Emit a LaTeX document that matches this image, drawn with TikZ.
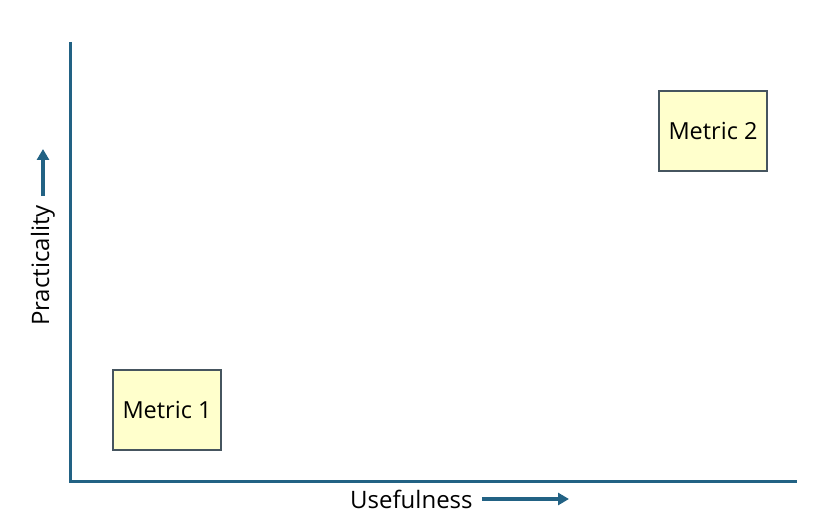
\documentclass[tikz,border=0pt]{standalone}
\usepackage{fontspec}
\setmainfont{Open Sans}
\usetikzlibrary{arrows.meta}
\definecolor{axisblue}{RGB}{34,98,132}
\definecolor{boxfill}{RGB}{255,255,204}
\definecolor{boxline}{RGB}{70,85,95}
\tikzset{
  metricbox/.style={draw=boxline, fill=boxfill, line width=1.2pt,
    minimum width=108pt, minimum height=80pt, font=\fontsize{23.5}{28}\selectfont},
  axislabel/.style={font=\fontsize{24}{28}\selectfont, inner sep=0pt},
  axisline/.style={axisblue, line width=3pt},
  dirarrow/.style={axisblue, line width=3.8pt, -{Triangle[length=11pt,width=12pt]}}
}
\begin{document}
\begin{tikzpicture}[x=1pt,y=-1pt]
\useasboundingbox (0,0) rectangle (830,532);

% Axes
\coordinate (ytop) at (70,42);
\coordinate (origin) at (70,481);
\coordinate (xend) at (797,481);
\draw[axisline]
(ytop)
--
(origin)
--
(xend);

% Metrics
\node[metricbox] (metric1) at (167,410)
{Metric 1};

\node[metricbox] (metric2) at (713,131)
{Metric 2};

% Usefulness
\node[axislabel, anchor=west] (useful) at (350,499)
{Usefulness};
\coordinate (uend) at (569,499);
\draw[dirarrow]
([xshift=9pt]useful.east)
--
(uend);

% Practicality
\node[axislabel, rotate=90, anchor=west] (practical) at (43,326)
{Practicality};
\coordinate (pend) at (43,149);
\draw[dirarrow]
([yshift=9pt]practical.east)
--
(pend);

\end{tikzpicture}
\end{document}
